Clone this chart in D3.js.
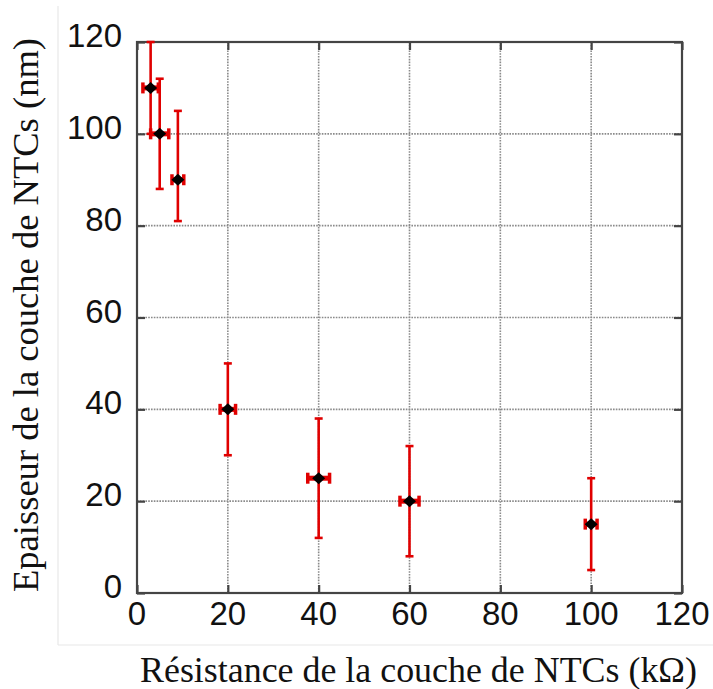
<!DOCTYPE html>
<html>
<head>
<meta charset="utf-8">
<script src="https://cdn.jsdelivr.net/npm/d3@7/dist/d3.min.js"></script>
<style>
  html, body { margin: 0; padding: 0; background: #fff; }
  svg { display: block; }
</style>
</head>
<body>
<svg id="chart" width="713" height="689"></svg>
<script>
// Measured resistance (kΩ) vs. NTC layer thickness (nm), with error bars
const resistance = [3, 5, 9, 20, 40, 60, 100];
const thickness  = [110, 100, 90, 40, 25, 20, 15];
const thickLow   = [100, 88, 81, 30, 12, 8, 5];
const thickHigh  = [120, 112, 105, 50, 38, 32, 25];
const resErr     = [1.7, 2, 1.3, 1.7, 2.4, 2.1, 1.3];

const xTicks = [0, 20, 40, 60, 80, 100, 120];
const yTicks = [0, 20, 40, 60, 80, 100, 120];

const xTitle = "Résistance de la couche de NTCs (kΩ)";
const yTitle = "Epaisseur de la couche de NTCs (nm)";

const svg = d3.select("#chart");
const W = 713, H = 689;
const plot = { left: 137, right: 682, top: 42, bottom: 593 };

const x = d3.scaleLinear().domain([0, 120]).range([plot.left, plot.right]);
const y = d3.scaleLinear().domain([0, 120]).range([plot.bottom, plot.top]);

// faint outer frame
svg.append("line").attr("x1", 58).attr("x2", 58).attr("y1", 6).attr("y2", 645)
  .attr("stroke", "#e8e8e8").attr("stroke-width", 1.2);
svg.append("line").attr("x1", 58).attr("x2", W).attr("y1", 645).attr("y2", 645)
  .attr("stroke", "#e8e8e8").attr("stroke-width", 1.2);

// dotted grid
const grid = svg.append("g").attr("stroke", "#8a8a8a").attr("stroke-width", 1.6)
  .attr("stroke-dasharray", "1.6 1.2");
grid.selectAll(".gx").data(xTicks.slice(1, -1)).join("line")
  .attr("x1", d => x(d)).attr("x2", d => x(d))
  .attr("y1", plot.top).attr("y2", plot.bottom);
grid.selectAll(".gy").data(yTicks.slice(1, -1)).join("line")
  .attr("y1", d => y(d)).attr("y2", d => y(d))
  .attr("x1", plot.left).attr("x2", plot.right);

// axes with inward ticks on all four sides
const tickLen = 8;
const axisColor = "#444";
function styleAxis(g) {
  g.select(".domain").remove();
  g.selectAll(".tick line").attr("stroke", axisColor).attr("stroke-width", 2.2);
  g.selectAll(".tick text").remove();
}
svg.append("g").attr("transform", `translate(0,${plot.bottom})`)
  .call(d3.axisBottom(x).tickValues(xTicks).tickSizeInner(-tickLen).tickSizeOuter(0)).call(styleAxis);
svg.append("g").attr("transform", `translate(0,${plot.top})`)
  .call(d3.axisTop(x).tickValues(xTicks).tickSizeInner(-tickLen).tickSizeOuter(0)).call(styleAxis);
svg.append("g").attr("transform", `translate(${plot.left},0)`)
  .call(d3.axisLeft(y).tickValues(yTicks).tickSizeInner(-tickLen).tickSizeOuter(0)).call(styleAxis);
svg.append("g").attr("transform", `translate(${plot.right},0)`)
  .call(d3.axisRight(y).tickValues(yTicks).tickSizeInner(-tickLen).tickSizeOuter(0)).call(styleAxis);

svg.append("rect")
  .attr("x", plot.left).attr("y", plot.top)
  .attr("width", plot.right - plot.left).attr("height", plot.bottom - plot.top)
  .attr("fill", "none").attr("stroke", axisColor).attr("stroke-width", 2.2);

// tick labels
const tickFont = "'Liberation Sans', Arial, sans-serif";
svg.append("g").selectAll("text").data(xTicks).join("text")
  .attr("x", d => x(d)).attr("y", 625)
  .attr("text-anchor", "middle")
  .attr("font-family", tickFont).attr("font-size", 33).attr("fill", "#111")
  .text(d => d);
svg.append("g").selectAll("text").data(yTicks).join("text")
  .attr("x", 122).attr("y", d => y(d) + 5)
  .attr("text-anchor", "end")
  .attr("font-family", tickFont).attr("font-size", 33).attr("fill", "#111")
  .text(d => d);

// axis titles
const titleFont = "'Liberation Serif', 'Times New Roman', serif";
svg.append("text")
  .attr("x", 140).attr("y", 682)
  .attr("font-family", titleFont).attr("font-size", 35).attr("fill", "#111")
  .attr("textLength", 557).attr("lengthAdjust", "spacingAndGlyphs")
  .text(xTitle);
svg.append("text")
  .attr("transform", "translate(38,592) rotate(-90)")
  .attr("font-family", titleFont).attr("font-size", 35).attr("fill", "#111")
  .attr("textLength", 554).attr("lengthAdjust", "spacingAndGlyphs")
  .text(yTitle);

// error bars
const red = "#e00000";
const pts = resistance.map((r, i) => ({
  r, t: thickness[i], lo: thickLow[i], hi: thickHigh[i], dr: resErr[i]
}));
const eb = svg.append("g").attr("stroke", red).attr("fill", "none");
const capW = 4;
// vertical bars
eb.selectAll(".v").data(pts).join("line")
  .attr("x1", d => x(d.r)).attr("x2", d => x(d.r))
  .attr("y1", d => y(d.lo)).attr("y2", d => y(d.hi))
  .attr("stroke-width", 2.6);
eb.selectAll(".vcapT").data(pts).join("line")
  .attr("x1", d => x(d.r) - capW).attr("x2", d => x(d.r) + capW)
  .attr("y1", d => y(d.hi)).attr("y2", d => y(d.hi))
  .attr("stroke-width", 2.6);
eb.selectAll(".vcapB").data(pts).join("line")
  .attr("x1", d => x(d.r) - capW).attr("x2", d => x(d.r) + capW)
  .attr("y1", d => y(d.lo)).attr("y2", d => y(d.lo))
  .attr("stroke-width", 2.6);
// horizontal bars
eb.selectAll(".h").data(pts).join("line")
  .attr("x1", d => x(d.r - d.dr)).attr("x2", d => x(d.r + d.dr))
  .attr("y1", d => y(d.t)).attr("y2", d => y(d.t))
  .attr("stroke-width", 5);
eb.selectAll(".hcapL").data(pts).join("line")
  .attr("x1", d => x(d.r - d.dr)).attr("x2", d => x(d.r - d.dr))
  .attr("y1", d => y(d.t) - 5.5).attr("y2", d => y(d.t) + 5.5)
  .attr("stroke-width", 3.5);
eb.selectAll(".hcapR").data(pts).join("line")
  .attr("x1", d => x(d.r + d.dr)).attr("x2", d => x(d.r + d.dr))
  .attr("y1", d => y(d.t) - 5.5).attr("y2", d => y(d.t) + 5.5)
  .attr("stroke-width", 3.5);

// diamond markers
const diamond = "M0,-6L6.5,0L0,6L-6.5,0Z";
svg.append("g").selectAll("path").data(pts).join("path")
  .attr("transform", d => `translate(${x(d.r)},${y(d.t)})`)
  .attr("d", diamond).attr("fill", "#000");
</script>
</body>
</html>
